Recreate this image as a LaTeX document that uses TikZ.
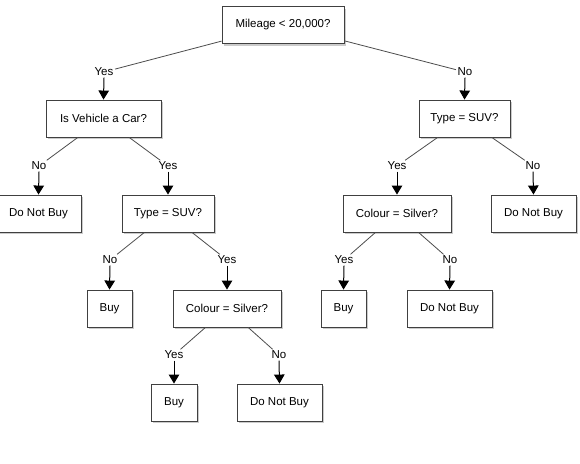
\documentclass[tikz,border=0pt]{standalone}
\usepackage{fontspec}
\setmainfont{Liberation Sans}
\usetikzlibrary{arrows.meta,shadows}
\begin{document}
\begin{tikzpicture}[x=1pt,y=-1pt,
  box/.style={draw=black!75,line width=0.9pt,fill=white,minimum height=37pt,inner sep=0pt,
    font=\fontsize{11.5}{14}\selectfont,
    drop shadow={shadow xshift=2pt,shadow yshift=-2pt,opacity=0.45,fill=black!45}},
  lbl/.style={inner sep=1.5pt,font=\fontsize{11.5}{14}\selectfont},
  conn/.style={draw=black!70,line width=0.8pt},
  arr/.style={draw=black,line width=1pt,-{Triangle[width=10.5pt,length=9pt]}}]
\useasboundingbox (0,0) rectangle (580,463);
% boxes
\node[box,minimum width=122pt] (root) at (283,25) {Mileage < 20,000?};
\node[box,minimum width=115pt] (car) at (103.5,118.5) {Is Vehicle a Car?};
\node[box,minimum width=91pt] (suvR) at (464.5,118.5) {Type = SUV?};
\node[box,minimum width=85pt] (dnb1) at (38.5,213.5) {Do Not Buy};
\node[box,minimum width=92pt] (suvL) at (168,213.5) {Type = SUV?};
\node[box,minimum width=108pt] (colR) at (397,213.5) {Colour = Silver?};
\node[box,minimum width=85pt] (dnb2) at (533.5,213.5) {Do Not Buy};
\node[box,minimum width=45pt] (buy1) at (109.5,308.5) {Buy};
\node[box,minimum width=108pt] (colL) at (227,308.5) {Colour = Silver?};
\node[box,minimum width=45pt] (buy3) at (343.5,308.5) {Buy};
\node[box,minimum width=85pt] (dnb3) at (449.5,308.5) {Do Not Buy};
\node[box,minimum width=46pt] (buy2) at (174,402.5) {Buy};
\node[box,minimum width=85pt] (dnb4) at (279.5,402.5) {Do Not Buy};
% labels
\node[lbl] (l1) at (104,72) {Yes};
\node[lbl] (l2) at (465,72) {No};
\node[lbl] (l3) at (39,166) {No};
\node[lbl] (l4) at (168,166) {Yes};
\node[lbl] (l5) at (397,166) {Yes};
\node[lbl] (l6) at (533,166) {No};
\node[lbl] (l7) at (110,260) {No};
\node[lbl] (l8) at (227,260) {Yes};
\node[lbl] (l9) at (344,260) {Yes};
\node[lbl] (l10) at (450,260) {No};
\node[lbl] (l11) at (174,355) {Yes};
\node[lbl] (l12) at (279,355) {No};
% connectors
\draw[conn] (root) -- (l1);
\draw[conn] (root) -- (l2);
\draw[conn] (car) -- (l3);
\draw[conn] (car) -- (l4);
\draw[conn] (suvR) -- (l5);
\draw[conn] (suvR) -- (l6);
\draw[conn] (suvL) -- (l7);
\draw[conn] (suvL) -- (l8);
\draw[conn] (colR) -- (l9);
\draw[conn] (colR) -- (l10);
\draw[conn] (colL) -- (l11);
\draw[conn] (colL) -- (l12);
% arrows
\draw[arr] (l1.south) -- (car.north);
\draw[arr] (l2.south) -- (suvR.north);
\draw[arr] (l3.south) -- (dnb1.north);
\draw[arr] (l4.south) -- (suvL.north);
\draw[arr] (l5.south) -- (colR.north);
\draw[arr] (l6.south) -- (dnb2.north);
\draw[arr] (l7.south) -- (buy1.north);
\draw[arr] (l8.south) -- (colL.north);
\draw[arr] (l9.south) -- (buy3.north);
\draw[arr] (l10.south) -- (dnb3.north);
\draw[arr] (l11.south) -- (buy2.north);
\draw[arr] (l12.south) -- (dnb4.north);
\end{tikzpicture}
\end{document}
